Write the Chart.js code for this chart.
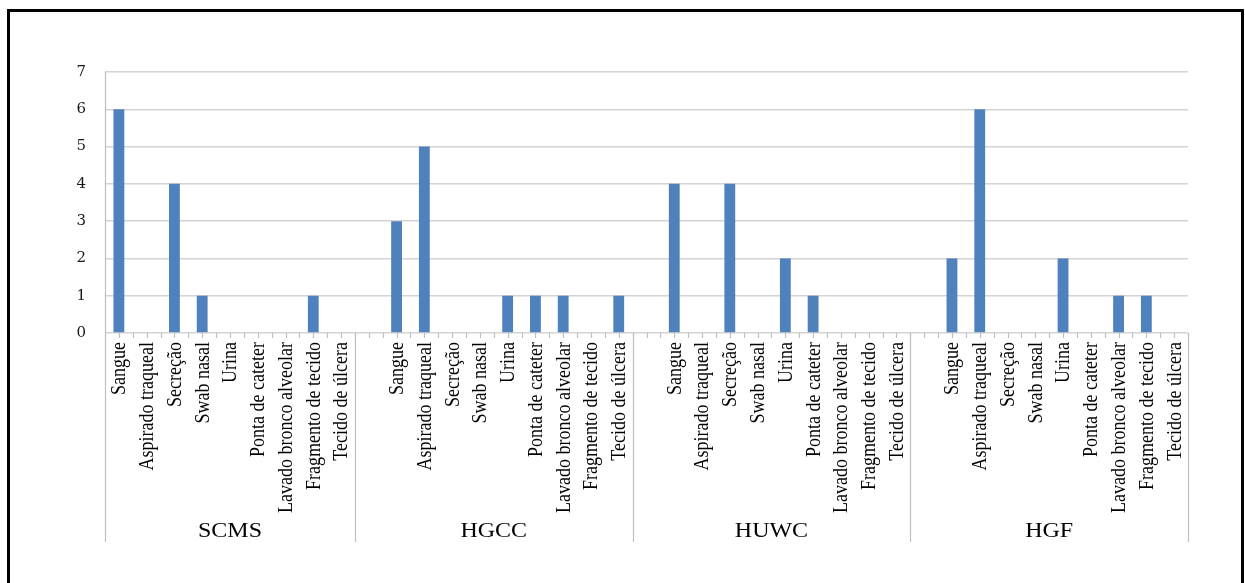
<!DOCTYPE html>
<html>
<head>
<meta charset="utf-8">
<script src="https://cdn.jsdelivr.net/npm/chart.js@4/dist/chart.umd.min.js"></script>
<style>
  html, body { margin: 0; padding: 0; background: #fff; overflow: hidden; }
  #wrap { position: relative; width: 1245px; height: 583px; }
  #frame { position: absolute; left: 7px; top: 9px; width: 1237px; height: 620px;
           border: 3px solid #000; box-sizing: border-box; pointer-events: none; }
  canvas { position: absolute; left: 0; top: 0; }
</style>
</head>
<body>
<div id="wrap">
  <canvas id="c" width="1245" height="583"></canvas>
  <div id="frame"></div>
</div>
<script>
// Sample types, repeated inside every hospital group
const sampleTypes = ['Sangue', 'Aspirado traqueal', 'Secreção', 'Swab nasal', 'Urina',
  'Ponta de cateter', 'Lavado bronco alveolar', 'Fragmento de tecido', 'Tecido de úlcera'];

// Hospitals (group labels under the axis)
const hospitals = ['SCMS', 'HGCC', 'HUWC', 'HGF'];

// Counts per sample type, one array per hospital
const scms = [6, 0, 4, 1, 0, 0, 0, 1, 0];
const hgcc = [3, 5, 0, 0, 1, 1, 1, 0, 1];
const huwc = [4, 0, 4, 0, 2, 1, 0, 0, 0];
const hgf  = [2, 6, 0, 0, 2, 0, 1, 1, 0];

// Y axis ticks
const yTicks = [0, 1, 2, 3, 4, 5, 6, 7];

// Build the flat category list: groups after the first start with an empty slot
const groupValues = [scms, hgcc, huwc, hgf];
const labels = [];
const values = [];
const groupOf = [];
groupValues.forEach((vals, g) => {
  if (g > 0) { labels.push(''); values.push(null); groupOf.push(g); }
  sampleTypes.forEach((t, i) => { labels.push(t); values.push(vals[i]); groupOf.push(g); });
});

const AXIS_GRAY = '#bfbfbf';
const LABEL_BOTTOM = 542;

const categoryAxisPlugin = {
  id: 'categoryAxis',
  afterDraw(chart) {
    const ctx = chart.ctx;
    const x = chart.scales.x;
    const y = chart.scales.y;
    const area = chart.chartArea;
    const base = y.getPixelForValue(0);
    const n = labels.length;
    const slot = (area.right - area.left) / n;

    ctx.save();
    ctx.strokeStyle = AXIS_GRAY;
    ctx.lineWidth = 1.2;

    // vertical axis line, extended through the label block
    ctx.beginPath();
    ctx.moveTo(area.left + 0.5, area.top);
    ctx.lineTo(area.left + 0.5, LABEL_BOTTOM);
    ctx.stroke();

    // tick marks at each category centre and boundary
    ctx.beginPath();
    for (let i = 0; i < n; i++) {
      const c = x.getPixelForValue(i);
      ctx.moveTo(Math.round(c) + 0.5, base);
      ctx.lineTo(Math.round(c) + 0.5, base + 5);
      const b = c + slot / 2;
      ctx.moveTo(Math.round(b) + 0.5, base);
      ctx.lineTo(Math.round(b) + 0.5, base + 5);
    }
    ctx.stroke();

    // group separators
    ctx.beginPath();
    for (let i = 0; i < n; i++) {
      if (i === n - 1 || groupOf[i + 1] !== groupOf[i]) {
        const b = Math.round(x.getPixelForValue(i) + slot / 2) + 0.5;
        ctx.moveTo(b, base);
        ctx.lineTo(b, LABEL_BOTTOM);
      }
    }
    ctx.stroke();

    // rotated category labels
    ctx.fillStyle = '#000';
    ctx.font = '18px "Liberation Serif", "Times New Roman", serif';
    ctx.textAlign = 'right';
    ctx.textBaseline = 'middle';
    for (let i = 0; i < n; i++) {
      if (!labels[i]) continue;
      const c = x.getPixelForValue(i);
      ctx.save();
      ctx.translate(c + 1, base + 9);
      ctx.scale(1.15, 1);
      ctx.rotate(-Math.PI / 2);
      ctx.fillText(labels[i], 0, 0);
      ctx.restore();
    }

    // hospital group labels
    ctx.font = '20px "Liberation Serif", "Times New Roman", serif';
    ctx.textAlign = 'center';
    hospitals.forEach((h, g) => {
      let first = -1, last = -1;
      groupOf.forEach((gg, i) => { if (gg === g) { if (first < 0) first = i; last = i; } });
      const l = x.getPixelForValue(first) - slot / 2;
      const r = x.getPixelForValue(last) + slot / 2;
      ctx.save();
      ctx.translate((l + r) / 2, 532);
      ctx.scale(1.2, 1);
      ctx.fillText(h, 0, 0);
      ctx.restore();
    });
    ctx.restore();
  }
};

new Chart(document.getElementById('c'), {
  type: 'bar',
  data: {
    labels: labels,
    datasets: [{
      data: values,
      backgroundColor: '#4f81bd',
      borderWidth: 0,
      barPercentage: 0.39,
      categoryPercentage: 1.0
    }]
  },
  options: {
    responsive: false,
    animation: false,
    layout: { padding: { left: 0, top: 72, right: 57, bottom: 250 } },
    plugins: { legend: { display: false }, tooltip: { enabled: false } },
    scales: {
      x: {
        display: false,
        offset: true
      },
      y: {
        min: 0,
        max: 7,
        afterBuildTicks(s) { s.ticks = yTicks.map(v => ({ value: v })); },
        afterFit(s) { s.width = 105; },
        border: { display: false },
        grid: { color: '#d4d4d4', lineWidth: 1.5, drawTicks: false },
        ticks: {
          padding: 19,
          color: '#1a1a1a',
          font: { family: '"DejaVu Serif", serif', size: 15 }
        }
      }
    }
  },
  plugins: [categoryAxisPlugin]
});
</script>
</body>
</html>
